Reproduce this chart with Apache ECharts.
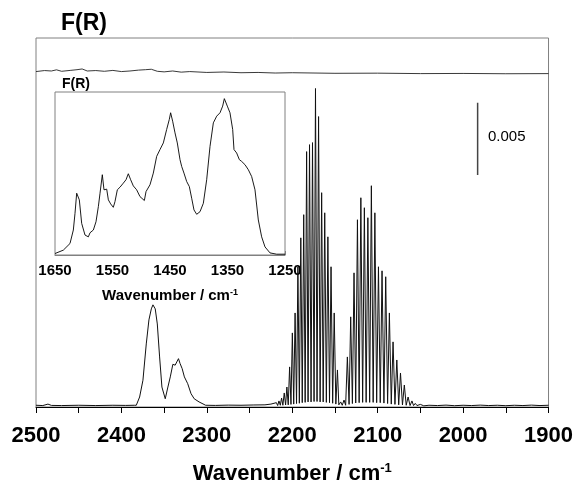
<!DOCTYPE html>
<html>
<head>
<meta charset="utf-8">
<script src="https://cdn.jsdelivr.net/npm/echarts@6/dist/echarts.min.js"></script>
<style>html,body{margin:0;padding:0;background:#fff}#c{width:576px;height:490px}</style>
</head>
<body>
<div id="c"></div>
<script>
// ---- Data ----
const mainTicks = [2500, 2400, 2300, 2200, 2100, 2000, 1900];
const insetTicks = [1650, 1550, 1450, 1350, 1250];

// main spectrum: [wavenumber, F(R)]
const baselineHigh = [[2500,0.00012],[2492,0.00010],[2486,0.00020],[2482,0.00011],[2470,0.00010],[2450,0.00012],[2430,0.00010],[2410,0.00012],[2395,0.00011],[2385,0.00012]];
const co2Band = [[2382.6,0.00012],[2378.7,0.00069],[2374.8,0.00185],[2370.9,0.00436],[2367.8,0.00602],[2365,0.00678],[2363.1,0.00706],[2360.4,0.00678],[2358,0.00574],[2355.3,0.00346],[2352.6,0.00138],[2348.7,0.00057],[2345.6,0.00138],[2342.8,0.00208],[2339.8,0.00295],[2337.1,0.00289],[2335.2,0.00311],[2333.2,0.00334],[2331.3,0.00300],[2328.9,0.00265],[2326.3,0.00208],[2322.4,0.00161],[2318.5,0.00092],[2314.8,0.00057],[2309.1,0.00035],[2301.4,0.00012]];
const baselineMid = [[2290,0.00011],[2275,0.00013],[2260,0.00012],[2245,0.00014],[2232,0.00015],[2225,0.00020]];
const coRBranch = [[2218.6,0.00030],[2217.1,0.00010],[2215.6,0.00042],[2214.0,0.00012],[2212.5,0.00062],[2211.0,0.00012],[2209.4,0.00097],[2207.8,0.00014],[2206.3,0.00138],[2204.7,0.00015],[2203.1,0.00277],[2201.5,0.00018],[2199.9,0.00512],[2198.3,0.00020],[2196.7,0.00650],[2195.0,0.00024],[2193.4,0.00969],[2191.7,0.00026],[2190.0,0.01169],[2188.3,0.00030],[2186.6,0.01329],[2184.9,0.00032],[2183.2,0.01765],[2181.5,0.00035],[2179.8,0.01813],[2178.0,0.00035],[2176.3,0.01827],[2174.5,0.00038],[2172.8,0.02201],[2171.0,0.00038],[2169.2,0.02007],[2167.4,0.00035],[2165.6,0.01481],[2163.8,0.00035],[2162.0,0.01342],[2160.1,0.00032],[2158.3,0.01176],[2156.4,0.00030],[2154.6,0.00969],[2152.7,0.00026],[2150.9,0.00650],[2149.0,0.00020],[2147.1,0.00256],[2145.5,0.00015]];
const coGap = [[2143.3,0.00035],[2141.5,0.00012]];
const coPBranch = [[2139.4,0.00048],[2137.5,0.00012],[2135.5,0.00346],[2133.5,0.00018],[2131.6,0.00623],[2129.6,0.00024],[2127.7,0.00927],[2125.7,0.00028],[2123.7,0.01294],[2121.7,0.00030],[2119.7,0.01446],[2117.6,0.00032],[2115.6,0.01377],[2113.5,0.00032],[2111.5,0.01308],[2109.4,0.00032],[2107.4,0.01529],[2105.3,0.00032],[2103.3,0.01342],[2101.2,0.00030],[2099.1,0.00969],[2097.0,0.00030],[2094.9,0.00941],[2092.7,0.00027],[2090.6,0.00900],[2088.4,0.00024],[2086.3,0.00650],[2084.1,0.00020],[2082.0,0.00450],[2079.8,0.00018],[2077.6,0.00325],[2075.4,0.00015],[2073.3,0.00235],[2071.0,0.00014],[2068.8,0.00152],[2066.6,0.00012],[2064.4,0.00069],[2062.1,0.00010],[2059.9,0.00042],[2058.0,0.00010]];
const baselineLow = [[2056,0.00025],[2054,0.00010],[2050,0.00018],[2046,0.00008],[2040,0.00012],[2030,0.00010],[2020,0.00013],[2010,0.00009],[2000,0.00012],[1990,0.00010],[1980,0.00013],[1970,0.00010],[1960,0.00012],[1950,0.00009],[1940,0.00012],[1930,0.00010],[1920,0.00013],[1910,0.00010],[1900,0.00012]];

// upper reference trace
const topTrace = [[2500,0.02318],[2490,0.02325],[2482,0.02322],[2476,0.02330],[2470,0.02320],[2460,0.02326],[2452,0.02331],[2446,0.02336],[2440,0.02322],[2430,0.02325],[2420,0.02320],[2410,0.02326],[2400,0.02318],[2390,0.02322],[2380,0.02328],[2372,0.02331],[2365,0.02334],[2358,0.02320],[2350,0.02316],[2340,0.02322],[2330,0.02314],[2320,0.02318],[2300,0.02312],[2280,0.02315],[2260,0.02310],[2240,0.02312],[2220,0.02308],[2200,0.02310],[2150,0.02306],[2100,0.02307],[2050,0.02304],[2000,0.02305],[1950,0.02303],[1900,0.02304]];

// scale bar (0.005 F(R))
const scaleBar = [[1983,0.01603],[1983,0.02103]];
const scaleLabel = '0.005';

// inset spectrum: [wavenumber, relative F(R)]
const insetSpectrum = [[1650,0.4],[1635.5,2.5],[1623.9,6.6],[1618.1,14.9],[1615.2,25.2],[1612.3,37.6],[1610.6,38.2],[1607.7,33.5],[1603.6,19.0],[1597.8,11.8],[1592.0,10.7],[1589.1,13.2],[1583.3,14.9],[1578.7,20.0],[1574.6,29.3],[1571.7,37.6],[1567.7,49.0],[1564.8,39.7],[1560.1,40.1],[1557.2,33.5],[1553.2,31.0],[1548.6,28.9],[1545.7,32.4],[1541.6,39.7],[1537.0,41.3],[1531.2,43.8],[1526.5,45.9],[1522.5,49.6],[1518.4,45.9],[1513.8,42.1],[1508.0,39.7],[1502.2,35.5],[1494.6,33.1],[1491.7,38.6],[1484.8,42.8],[1479.0,50.0],[1473.2,60.3],[1467.4,64.5],[1461.6,68.6],[1455.8,76.9],[1451.2,83.1],[1448.9,87.2],[1445.4,82.0],[1441.3,74.8],[1437.3,68.6],[1432.6,58.3],[1429.7,54.1],[1425.7,50.0],[1421.0,44.8],[1416.4,41.7],[1412.3,34.5],[1408.3,27.3],[1403.6,24.6],[1397.8,26.2],[1392.0,31.4],[1386.2,45.9],[1380.4,66.5],[1374.6,81.0],[1368.8,85.1],[1363.0,87.2],[1358.4,91.3],[1355.5,95.9],[1350.3,91.3],[1345.7,87.2],[1341.0,76.9],[1338.7,64.5],[1334.1,62.4],[1329.4,58.3],[1325.4,57.2],[1319.6,55.2],[1313.8,52.1],[1308.0,47.9],[1302.2,39.7],[1296.4,21.1],[1290.6,10.7],[1284.8,4.5],[1276.1,0.8],[1264.5,0],[1250,0]];

const mainSpectrum = [].concat(baselineHigh, co2Band, baselineMid, coRBranch, coGap, coPBranch, baselineLow);

// ---- Chart ----
const FONT = 'Liberation Sans, Arial, Helvetica, sans-serif';
const chart = echarts.init(document.getElementById('c'), null, {renderer: 'canvas'});
chart.setOption({
  animation: false,
  backgroundColor: '#fff',
  grid: [
    {left: 36, right: 26, top: 38, bottom: 83, show: true, borderColor: '#808080', borderWidth: 1},
    {left: 55, width: 230, top: 92, height: 163, show: true, borderColor: '#808080', borderWidth: 1, backgroundColor: '#fff', z: 5}
  ],
  xAxis: [
    {gridIndex: 0, type: 'value', min: 1900, max: 2500, interval: 100, inverse: true,
     name: 'Wavenumber / cm{sup|-1}', nameLocation: 'middle', nameGap: 55,
     nameTextStyle: {fontFamily: FONT, fontWeight: 'bold', fontSize: 22, color: '#000',
       rich: {sup: {fontFamily: FONT, fontWeight: 'bold', fontSize: 13, verticalAlign: 'top', padding: [0,0,10,0]}}},
     axisLine: {onZero: false, lineStyle: {color: '#000', width: 1}},
     axisTick: {inside: false, length: 6, lineStyle: {color: '#000'}},
     minorTick: {show: true, splitNumber: 2, length: 6, lineStyle: {color: '#000'}},
     axisLabel: {fontFamily: FONT, fontWeight: 'bold', fontSize: 22, color: '#000', margin: 18,
       formatter: v => mainTicks.includes(v) ? String(v) : ''},
     splitLine: {show: false}},
    {gridIndex: 1, type: 'value', min: 1250, max: 1650, interval: 100, inverse: true,
     name: 'Wavenumber / cm{sup|-1}', nameLocation: 'middle', nameGap: 33,
     nameTextStyle: {fontFamily: FONT, fontWeight: 'bold', fontSize: 15, color: '#000',
       rich: {sup: {fontFamily: FONT, fontWeight: 'bold', fontSize: 9, verticalAlign: 'top', padding: [0,0,7,0]}}},
     axisLine: {onZero: false, lineStyle: {color: '#808080', width: 1}},
     axisTick: {inside: true, length: 4, lineStyle: {color: '#808080'}},
     minorTick: {show: true, splitNumber: 2, length: 4, lineStyle: {color: '#808080'}},
     axisLabel: {fontFamily: FONT, fontWeight: 'bold', fontSize: 15, color: '#000', margin: 8,
       formatter: v => insetTicks.includes(v) ? String(v) : ''},
     splitLine: {show: false}}
  ],
  yAxis: [
    {gridIndex: 0, type: 'value', min: 0, max: 0.0255, show: false, splitLine: {show: false}},
    {gridIndex: 1, type: 'value', min: -0.5, max: 100, show: false, splitLine: {show: false}}
  ],
  graphic: [
    {type: 'text', left: 61, top: 12, z: 10, style: {text: 'F(R)', font: 'bold 23px ' + FONT, fill: '#000'}},
    {type: 'text', left: 62, top: 77, z: 10, style: {text: 'F(R)', font: 'bold 14px ' + FONT, fill: '#000'}},
    {type: 'text', left: 488, top: 129, z: 10, style: {text: scaleLabel, font: '15px ' + FONT, fill: '#000'}}
  ],
  series: [
    {type: 'line', xAxisIndex: 0, yAxisIndex: 0, data: mainSpectrum, showSymbol: false, symbol: 'none',
     lineStyle: {color: '#111', width: 1}, z: 2},
    {type: 'line', xAxisIndex: 0, yAxisIndex: 0, data: topTrace, showSymbol: false, symbol: 'none',
     lineStyle: {color: '#222', width: 0.9}, z: 2},
    {type: 'line', xAxisIndex: 0, yAxisIndex: 0, data: scaleBar, showSymbol: false, symbol: 'none',
     lineStyle: {color: '#444', width: 1.5}, z: 2},
    {type: 'line', xAxisIndex: 1, yAxisIndex: 1, data: insetSpectrum, showSymbol: false, symbol: 'none',
     lineStyle: {color: '#000', width: 0.9}, z: 6}
  ]
});
</script>
</body>
</html>
